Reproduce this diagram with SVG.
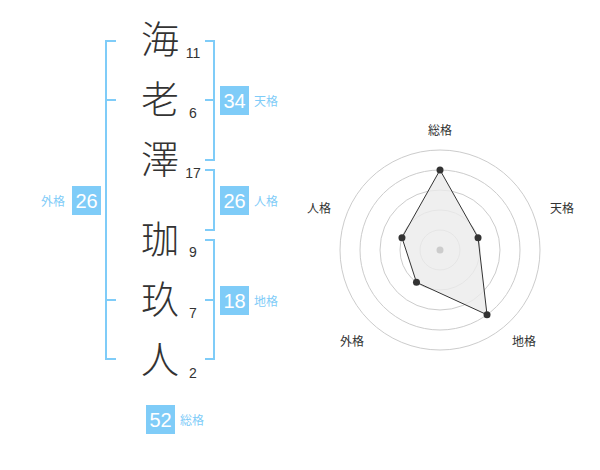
<svg xmlns="http://www.w3.org/2000/svg" width="600" height="470" viewBox="0 0 600 470">
<style>
.ch{font-family:"Noto Sans CJK JP","Noto Sans CJK SC",sans-serif;font-size:38px;font-weight:300;fill:#333;text-anchor:middle}
.num{font-family:"Liberation Sans",Arial,sans-serif;font-size:14px;fill:#333;text-anchor:middle}
.br{fill:none;stroke:#7fccf8;stroke-width:2}
.box{fill:#7fccf8}
.bn{font-family:"Liberation Sans",Arial,sans-serif;font-size:20px;fill:#fff;text-anchor:middle}
.bl{font-family:"Noto Sans CJK JP","Noto Sans CJK SC",sans-serif;font-size:12px;fill:#7fccf8}
.ring{fill:none;stroke:#ccc;stroke-width:1}
.rl{font-family:"Noto Sans CJK JP","Noto Sans CJK SC",sans-serif;font-size:12px;fill:#333;text-anchor:middle}
.pt{fill:#333}
</style>
<g id="names">
<text class="ch" x="160" y="53">海</text>
<text class="ch" x="160" y="113">老</text>
<text class="ch" x="160" y="173">澤</text>
<text class="ch" x="160" y="253">珈</text>
<text class="ch" x="160" y="313">玖</text>
<text class="ch" x="160" y="373">人</text>
<text class="num" x="193" y="58">11</text>
<text class="num" x="193" y="118">6</text>
<text class="num" x="193" y="178">17</text>
<text class="num" x="193" y="257">9</text>
<text class="num" x="193" y="318">7</text>
<text class="num" x="193" y="378">2</text>
</g>
<g id="connectors">
<path class="br" d="M116 41H106V359H116M106 100H116M106 300H116"/>
<path class="br" d="M205 41H214V160H205M205 100H214"/>
<path class="br" d="M205 170H214V230H205"/>
<path class="br" d="M205 240H214V359H205M205 300H214"/>
</g>
<g id="tenkaku">
<rect class="box" x="220" y="86" width="29" height="29"/>
<text class="bn" x="234.5" y="108">34</text>
<text class="bl" x="254" y="106">天格</text>
</g>
<g id="jinkaku">
<rect class="box" x="220" y="186" width="29" height="29"/>
<text class="bn" x="234.5" y="208">26</text>
<text class="bl" x="254" y="206">人格</text>
</g>
<g id="gaikaku">
<rect class="box" x="72" y="186" width="29" height="29"/>
<text class="bn" x="86.5" y="208">26</text>
<text class="bl" x="41" y="206">外格</text>
</g>
<g id="chikaku">
<rect class="box" x="220" y="286" width="29" height="29"/>
<text class="bn" x="234.5" y="308">18</text>
<text class="bl" x="254" y="306">地格</text>
</g>
<g id="soukaku">
<rect class="box" x="146" y="405" width="29" height="29"/>
<text class="bn" x="160.5" y="427">52</text>
<text class="bl" x="180" y="425">総格</text>
</g>
<g id="radar">
<circle class="ring" cx="440" cy="250" r="20"/>
<circle class="ring" cx="440" cy="250" r="40"/>
<circle class="ring" cx="440" cy="250" r="60"/>
<circle class="ring" cx="440" cy="250" r="80"/>
<circle class="ring" cx="440" cy="250" r="100"/>
<polygon points="440,170 478.04,237.64 487.02,314.72 416.49,282.36 401.96,237.64" fill="#ebebeb" fill-opacity="0.8" stroke="#333" stroke-width="1"/>
<circle cx="440" cy="250" r="3.5" fill="#ccc"/>
<circle class="pt" cx="440" cy="170" r="3.5"/>
<circle class="pt" cx="478.04" cy="237.64" r="3.5"/>
<circle class="pt" cx="487.02" cy="314.72" r="3.5"/>
<circle class="pt" cx="416.49" cy="282.36" r="3.5"/>
<circle class="pt" cx="401.96" cy="237.64" r="3.5"/>
<text class="rl" x="440" y="135">総格</text>
<text class="rl" x="562" y="213">天格</text>
<text class="rl" x="524" y="346">地格</text>
<text class="rl" x="352" y="346">外格</text>
<text class="rl" x="319" y="213">人格</text>
</g>
</svg>
